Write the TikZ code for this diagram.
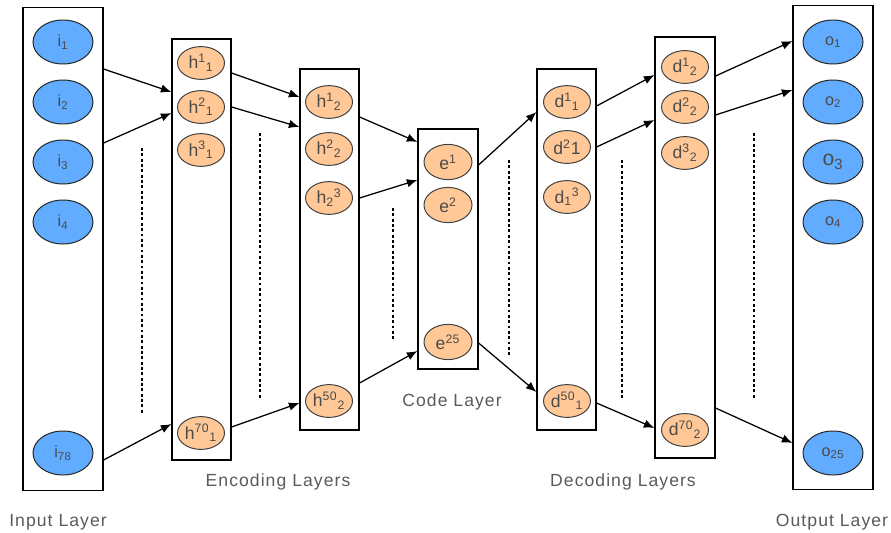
\documentclass[tikz,border=0pt]{standalone}
\usepackage{fontspec}
\setmainfont{Liberation Sans}
\newfontfamily\labelfont[LetterSpace=6]{Liberation Sans}
\newfontfamily\unitfont[LetterSpace=3]{Liberation Sans}
\usetikzlibrary{arrows.meta}
\usetikzlibrary{shapes.geometric}

\definecolor{inblue}{RGB}{97,172,255}
\definecolor{hidorange}{RGB}{255,200,150}
\definecolor{txtgrey}{RGB}{75,75,75}
\definecolor{lblgrey}{RGB}{90,90,90}

\tikzset{
  layer/.style={draw, line width=0.8pt, inner sep=0pt},
  inunit/.style={ellipse, draw=black!85, line width=0.7pt, fill=inblue,
    minimum width=1.5cm, minimum height=1.1cm, inner sep=0pt, text=txtgrey,
    font=\unitfont\fontsize{11.5}{11.5}\selectfont},
  hidunit/.style={ellipse, draw=black!75, line width=0.7pt, fill=hidorange,
    minimum width=1.175cm, minimum height=0.82cm, inner sep=0pt, text=txtgrey,
    font=\unitfont\fontsize{12.5}{12.5}\selectfont},
  codeunit/.style={hidunit, minimum width=1.2cm, minimum height=0.88cm},
  conn/.style={->, line width=0.9pt},
  gap/.style={line width=1pt, dash pattern=on 2pt off 1.8pt},
  layername/.style={text=lblgrey, font=\labelfont\fontsize{12.5}{12.5}\selectfont}
}

\begin{document}
\begin{tikzpicture}[x=0.025cm, y=-0.025cm, >={Latex[length=7.5pt,width=6pt]}]
    \useasboundingbox (0,0) rectangle (891,532);
    % Layer boxes
    \node[layer, minimum width=2cm, minimum height=12.05cm] (in) at (63,249) {};
    \node[layer, minimum width=1.475cm, minimum height=10.525cm] (enc1) at (201.5,249.5) {};
    \node[layer, minimum width=1.475cm, minimum height=9.025cm] (enc2) at (329.5,249.5) {};
    \node[layer, minimum width=1.5cm, minimum height=6cm] (code) at (448,249) {};
    \node[layer, minimum width=1.475cm, minimum height=9.025cm] (dec1) at (566.5,249.5) {};
    \node[layer, minimum width=1.5cm, minimum height=10.525cm] (dec2) at (685,247.5) {};
    \node[layer, minimum width=2cm, minimum height=12.075cm] (out) at (833,247.5) {};
    % Input units
    \node[inunit] (i1) at (63,42) {i\textsubscript{1}};
    \node[inunit] (i2) at (63,102) {i\textsubscript{2}};
    \node[inunit] (i3) at (63,162) {i\textsubscript{3}};
    \node[inunit] (i4) at (63,222) {i\textsubscript{4}};
    \node[inunit] (i78) at (63,453) {i\textsubscript{78}};
    % First encoding layer
    \node[hidunit] (h11) at (201,63) {h\textsuperscript{1}\textsubscript{1}};
    \node[hidunit] (h21) at (201,107) {h\textsuperscript{2}\textsubscript{1}};
    \node[hidunit] (h31) at (201,150) {h\textsuperscript{3}\textsubscript{1}};
    \node[hidunit] (h701) at (201,433) {h\textsuperscript{70}\textsubscript{1}};
    % Second encoding layer
    \node[hidunit] (h12) at (329,102) {h\textsuperscript{1}\textsubscript{2}};
    \node[hidunit] (h22) at (329,149) {h\textsuperscript{2}\textsubscript{2}};
    \node[hidunit] (h32) at (329,198) {h\textsubscript{2}\textsuperscript{3}};
    \node[hidunit] (h502) at (329,401) {h\textsuperscript{50}\textsubscript{2}};
    % Code units
    \node[codeunit] (e1) at (448,162) {e\textsuperscript{1}};
    \node[codeunit] (e2) at (448,205) {e\textsuperscript{2}};
    \node[codeunit] (e25) at (448,342) {e\textsuperscript{25}};
    % First decoding layer
    \node[hidunit] (d11) at (567,102) {d\textsuperscript{1}\textsubscript{1}};
    \node[hidunit] (d21) at (567,147) {d\textsuperscript{2}1};
    \node[hidunit] (d31) at (567,197) {d\textsubscript{1}\textsuperscript{3}};
    \node[hidunit] (d501) at (567,401) {d\textsuperscript{50}\textsubscript{1}};
    % Second decoding layer
    \node[hidunit] (d12) at (685,67) {d\textsuperscript{1}\textsubscript{2}};
    \node[hidunit] (d22) at (685,107) {d\textsuperscript{2}\textsubscript{2}};
    \node[hidunit] (d32) at (685,153) {d\textsuperscript{3}\textsubscript{2}};
    \node[hidunit] (d702) at (685,430) {d\textsuperscript{70}\textsubscript{2}};
    % Output units
    \node[inunit] (o1) at (833,42) {o\textsubscript{1}};
    \node[inunit] (o2) at (833,102) {o\textsubscript{2}};
    \node[inunit, font=\unitfont\fontsize{15}{15}\selectfont] (o3) at (833,162) {o\textsubscript{3}};
    \node[inunit] (o4) at (833,222) {o\textsubscript{4}};
    \node[inunit] (o25) at (833,453) {o\textsubscript{25}};
    % Connections between layers
    \draw[conn] (in.east |- 0,69) -- (enc1.west |- 0,92);
    \draw[conn] (in.east |- 0,143) -- (enc1.west |- 0,113);
    \draw[conn] (in.east |- 0,460) -- (enc1.west |- 0,424);
    \draw[conn] (enc1.east |- 0,73) -- (enc2.west |- 0,97);
    \draw[conn] (enc1.east |- 0,107) -- (enc2.west |- 0,127);
    \draw[conn] (enc1.east |- 0,427) -- (enc2.west |- 0,403);
    \draw[conn] (enc2.east |- 0,117) -- (code.west |- 0,142);
    \draw[conn] (enc2.east |- 0,198) -- (code.west |- 0,180);
    \draw[conn] (enc2.east |- 0,383) -- (code.west |- 0,351);
    \draw[conn] (code.east |- 0,165) -- (dec1.west |- 0,112);
    \draw[conn] (code.east |- 0,343) -- (dec1.west |- 0,392);
    \draw[conn] (dec1.east |- 0,106) -- (dec2.west |- 0,75);
    \draw[conn] (dec1.east |- 0,147) -- (dec2.west |- 0,120);
    \draw[conn] (dec1.east |- 0,403) -- (dec2.west |- 0,428);
    \draw[conn] (dec2.east |- 0,76) -- (out.west |- 0,41);
    \draw[conn] (dec2.east |- 0,115) -- (out.west |- 0,90);
    \draw[conn] (dec2.east |- 0,408) -- (out.west |- 0,443);
    % Dotted gaps for the units left out
    \draw[gap] (142,148) -- (142,415);
    \draw[gap] (260,133) -- (260,400);
    \draw[gap] (393,208) -- (393,340);
    \draw[gap] (509,160) -- (509,355);
    \draw[gap] (622,160) -- (622,400);
    \draw[gap] (754,133) -- (754,400);
    % Layer names
    \node[layername] (inname) at (58,522) {Input Layer};
    \node[layername] (encname) at (278,482) {Encoding Layers};
    \node[layername] (codename) at (452,402) {Code Layer};
    \node[layername] (decname) at (623,482) {Decoding Layers};
    \node[layername] (outname) at (832,522) {Output Layer};
\end{tikzpicture}
\end{document}
